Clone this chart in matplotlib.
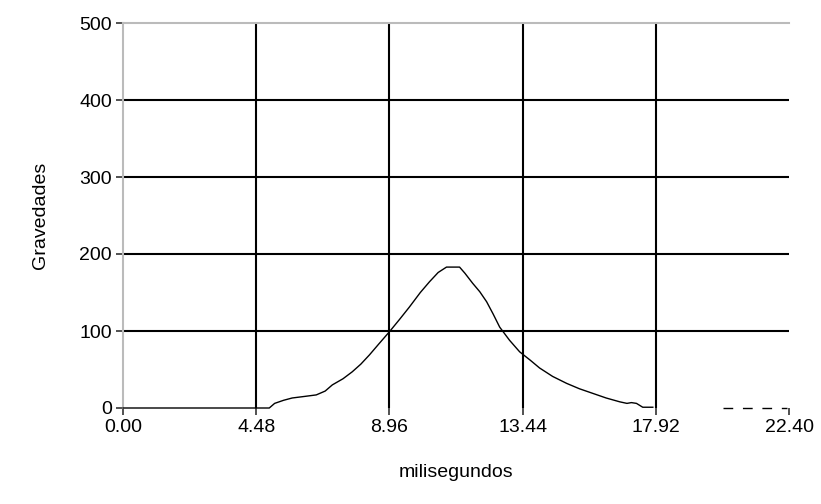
import matplotlib.pyplot as plt
import numpy as np

plt.rcParams['font.family'] = ['Liberation Sans', 'DejaVu Sans']

# curva
t_ms = [0.0, 4.48, 4.92, 5.1, 5.4, 5.69, 6.1, 6.5, 6.8, 7.04, 7.4, 7.71,
        8.0, 8.29, 8.6, 8.96, 9.3, 9.63, 10.0, 10.31, 10.6, 10.88, 11.32,
        11.5, 11.76, 12.0, 12.23, 12.45, 12.67, 13.0, 13.34, 13.7, 14.01,
        14.45, 14.92, 15.35, 15.8, 16.25, 16.71, 16.95, 17.1, 17.27, 17.48,
        17.82]
grav = [0, 0, 0, 6, 10, 13, 15, 17, 22, 30, 38, 47, 57, 69, 83, 99, 115,
        131, 150, 164, 176, 183, 183, 175, 162, 151, 138, 122, 105, 88, 73,
        62, 52, 41, 32, 25, 19, 13, 8, 6, 7, 6, 1, 1]
# tramo discontinuo al final
t_dash = [20.18, 22.33]
g_dash = [0, 0]

xticks = [0.00, 4.48, 8.96, 13.44, 17.92, 22.40]
yticks = [0, 100, 200, 300, 400, 500]

fig = plt.figure(figsize=(8.21, 5.04), dpi=100)
ax = fig.add_axes([123/821, 96/504, 666/821, 385/504])

for x in xticks[1:-1]:
    ax.axvline(x, color='black', lw=1.5, zorder=1)
for y in yticks[1:-1]:
    ax.axhline(y, color='black', lw=1.5, zorder=1)

ax.plot(t_ms, grav, color='black', lw=1.0, zorder=3, clip_on=False)
ax.plot(t_dash, g_dash, color='black', lw=1.0, ls=(0, (7, 7)), zorder=3,
        clip_on=False)

ax.set_xlim(0, 22.4)
ax.set_ylim(0, 500)
ax.set_xticks(xticks)
ax.set_xticklabels(['%.2f' % v for v in xticks])
ax.set_yticks(yticks)
ax.tick_params(direction='out', length=5, width=1.2, color='#333333',
               labelsize=14, pad=3)

for s in ['left', 'top']:
    ax.spines[s].set_color('#bbbbbb')
    ax.spines[s].set_linewidth(1.5)
ax.spines['right'].set_visible(False)
ax.spines['bottom'].set_visible(False)

ax.set_xlabel('milisegundos', fontsize=14, labelpad=20)
ax.set_ylabel('Gravedades', fontsize=14, labelpad=22)

fig.savefig('out.png', dpi=100)
